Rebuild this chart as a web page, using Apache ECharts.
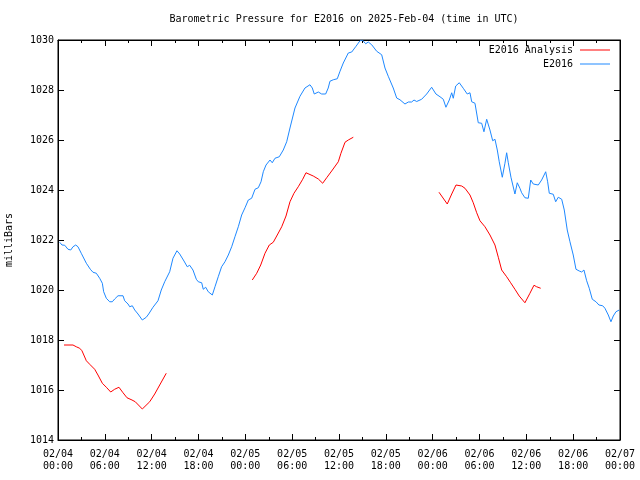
<!DOCTYPE html>
<html>
<head>
<meta charset="utf-8">
<script src="https://cdn.jsdelivr.net/npm/echarts@6/dist/echarts.min.js"></script>
<style>html,body{margin:0;padding:0;background:#fff;}#c{width:640px;height:480px;}</style>
</head>
<body>
<div id="c"></div>
<script>
// Time in hours since 2025-02-04 00:00 UTC
const xTickLabels = ["02/04\n00:00","02/04\n06:00","02/04\n12:00","02/04\n18:00","02/05\n00:00","02/05\n06:00","02/05\n12:00","02/05\n18:00","02/06\n00:00","02/06\n06:00","02/06\n12:00","02/06\n18:00","02/07\n00:00"];
const yTicks = [1014,1016,1018,1020,1022,1024,1026,1028,1030];

const blueHours = [0.22,0.51,0.86,1.28,1.63,1.92,2.27,2.56,2.98,3.63,4.14,4.48,4.91,5.34,5.68,5.85,6.19,6.62,6.96,7.26,7.69,8.33,8.54,8.97,9.19,9.52,9.83,10.25,10.80,11.31,11.62,12.17,12.81,13.23,13.67,14.31,14.73,15.24,15.59,16.14,16.56,16.87,17.29,17.72,17.97,18.41,18.61,18.92,19.25,19.77,20.11,20.53,20.96,21.39,21.82,22.25,22.67,23.10,23.53,23.96,24.38,24.81,25.24,25.66,26.01,26.30,26.65,27.16,27.45,27.80,28.35,28.86,29.30,29.72,30.36,31.00,31.64,32.28,32.58,32.83,33.35,33.78,34.29,34.62,34.84,35.27,35.78,36.13,36.55,37.19,37.63,38.18,38.69,38.99,39.42,39.75,40.19,40.83,41.47,41.89,42.31,42.95,43.39,43.81,44.45,44.88,45.31,45.61,45.95,46.59,47.23,47.87,48.42,48.94,49.36,49.70,50.13,50.44,50.64,50.95,51.41,51.92,52.43,52.78,53.00,53.42,53.84,54.28,54.57,54.92,55.34,55.69,55.98,56.28,56.53,56.92,57.26,57.48,57.69,58.03,58.54,58.84,59.18,59.40,59.82,60.25,60.56,60.89,61.53,61.96,62.48,62.73,62.94,63.45,63.76,64.09,64.53,64.86,65.24,65.59,66.01,66.36,66.78,67.09,67.38,67.73,68.06,68.45,68.92,69.30,69.78,70.07,70.50,70.84,71.14,71.48,71.90];
const blueValues = [1021.91,1021.80,1021.79,1021.63,1021.60,1021.73,1021.80,1021.73,1021.47,1021.07,1020.83,1020.71,1020.67,1020.47,1020.27,1019.93,1019.67,1019.53,1019.53,1019.64,1019.77,1019.77,1019.57,1019.44,1019.33,1019.37,1019.20,1019.04,1018.80,1018.91,1019.04,1019.31,1019.57,1020.00,1020.33,1020.73,1021.27,1021.57,1021.44,1021.16,1020.93,1020.99,1020.80,1020.43,1020.33,1020.29,1020.03,1020.11,1019.93,1019.80,1020.13,1020.53,1020.93,1021.13,1021.40,1021.73,1022.13,1022.53,1023.00,1023.29,1023.60,1023.67,1024.03,1024.09,1024.33,1024.73,1025.00,1025.20,1025.09,1025.27,1025.33,1025.60,1025.93,1026.48,1027.28,1027.75,1028.08,1028.21,1028.08,1027.84,1027.92,1027.84,1027.84,1028.08,1028.35,1028.41,1028.45,1028.75,1029.08,1029.48,1029.52,1029.75,1029.97,1030.00,1029.85,1029.92,1029.81,1029.55,1029.41,1028.88,1028.55,1028.08,1027.68,1027.61,1027.44,1027.52,1027.52,1027.60,1027.54,1027.63,1027.84,1028.11,1027.84,1027.73,1027.63,1027.31,1027.60,1027.89,1027.67,1028.16,1028.29,1028.07,1027.84,1027.89,1027.53,1027.47,1026.69,1026.67,1026.33,1026.83,1026.40,1025.97,1026.03,1025.60,1025.13,1024.51,1025.07,1025.49,1025.09,1024.51,1023.84,1024.29,1024.07,1023.89,1023.69,1023.67,1024.40,1024.24,1024.20,1024.40,1024.73,1024.33,1023.87,1023.83,1023.53,1023.71,1023.63,1023.20,1022.40,1021.93,1021.40,1020.83,1020.76,1020.72,1020.80,1020.37,1020.07,1019.63,1019.53,1019.40,1019.37,1019.27,1019.00,1018.73,1018.96,1019.13,1019.20];

// Analysis (null marks a gap between runs)
const redHours = [0.77,1.92,2.34,2.78,3.07,3.63,4.06,4.70,5.12,5.68,6.19,6.75,7.26,7.81,8.33,8.84,9.48,9.90,10.80,11.75,12.39,13.03,13.87,
  19.0,
  24.89,25.46,25.97,26.52,27.07,27.58,28.09,28.66,29.21,29.72,30.23,30.78,31.35,31.77,32.70,33.35,33.91,34.42,35.06,35.91,36.25,36.77,37.19,37.83,
  43.0,
  48.81,49.87,50.44,50.99,51.72,52.14,52.78,53.20,53.64,54.06,54.70,55.34,55.98,56.41,56.84,57.48,57.99,58.54,59.09,59.82,60.46,60.98,61.32,61.84];
const redValues = [1017.80,1017.80,1017.73,1017.67,1017.57,1017.17,1017.03,1016.83,1016.60,1016.27,1016.11,1015.92,1016.03,1016.11,1015.89,1015.69,1015.60,1015.53,1015.24,1015.53,1015.84,1016.20,1016.67,
  null,
  1020.40,1020.67,1021.00,1021.47,1021.80,1021.91,1022.20,1022.53,1022.96,1023.53,1023.87,1024.13,1024.43,1024.69,1024.56,1024.44,1024.27,1024.49,1024.76,1025.13,1025.47,1025.91,1026.00,1026.11,
  null,
  1023.91,1023.44,1023.84,1024.20,1024.16,1024.07,1023.80,1023.49,1023.09,1022.77,1022.53,1022.20,1021.80,1021.31,1020.80,1020.53,1020.29,1020.03,1019.76,1019.49,1019.87,1020.19,1020.13,1020.07];

const FONT = 'DejaVu Sans Mono';
const chart = echarts.init(document.getElementById('c'), null, {renderer: 'canvas'});
const pair = (xs, ys) => xs.map((x, i) => [x, ys[i]]);

const xBase = {
  type: 'value', min: 0, max: 72, interval: 6,
  axisLine: {show: true, onZero: false, lineStyle: {color: '#000', width: 1}},
  axisTick: {show: true, inside: true, length: 6, lineStyle: {color: '#000'}},
  minorTick: {show: true, splitNumber: 2, length: 3, lineStyle: {color: '#000'}},
  splitLine: {show: false}
};
const yBase = {
  type: 'value', min: 1014, max: 1030, interval: 2,
  axisLine: {show: true, onZero: false, lineStyle: {color: '#000', width: 1}},
  axisTick: {show: true, inside: true, length: 6, lineStyle: {color: '#000'}},
  splitLine: {show: false}
};

chart.setOption({
  animation: false,
  backgroundColor: '#fff',
  title: {
    text: 'Barometric Pressure for E2016 on 2025-Feb-04 (time in UTC)',
    left: 339, top: 9, textAlign: 'center',
    textStyle: {fontFamily: FONT, fontSize: 10, fontWeight: 'normal', color: '#000'}
  },
  legend: {
    orient: 'vertical', right: 25, top: 40, align: 'right',
    itemWidth: 30, itemHeight: 10, itemGap: 4,
    textStyle: {fontFamily: FONT, fontSize: 10, color: '#000', padding: [0, 2, 0, 0]},
    data: [{name: 'E2016 Analysis', icon: 'path://M0,5L30,5L30,6L0,6Z'}, {name: 'E2016', icon: 'path://M0,5L30,5L30,6L0,6Z'}]
  },
  grid: {left: 58, right: 20, top: 40, bottom: 40, show: true, borderColor: '#000', borderWidth: 1,
    containLabel: false, outerBoundsMode: 'none'},
  xAxis: [
    Object.assign({}, xBase, {
      position: 'bottom',
      axisLabel: {show: true, fontFamily: FONT, fontSize: 10, color: '#000', lineHeight: 12, margin: 8,
        formatter: v => xTickLabels[Math.round(v / 6)] || ''}
    }),
    Object.assign({}, xBase, {position: 'top', axisLabel: {show: false}})
  ],
  yAxis: [
    Object.assign({}, yBase, {
      position: 'left',
      name: 'milliBars', nameLocation: 'middle', nameGap: 44, nameRotate: 90,
      nameTextStyle: {fontFamily: FONT, fontSize: 10, color: '#000'},
      axisLabel: {show: true, fontFamily: FONT, fontSize: 10, color: '#000', margin: 4,
        formatter: v => yTicks.indexOf(v) >= 0 ? String(v) : ''}
    }),
    Object.assign({}, yBase, {position: 'right', axisLabel: {show: false}})
  ],
  series: [
    {
      name: 'E2016 Analysis', type: 'line', xAxisIndex: 0, yAxisIndex: 0,
      data: pair(redHours, redValues), connectNulls: false,
      showSymbol: false, symbol: 'none', color: '#ff0000',
      lineStyle: {color: '#ff0000', width: 1}, clip: true
    },
    {
      name: 'E2016', type: 'line', xAxisIndex: 0, yAxisIndex: 0,
      data: pair(blueHours, blueValues),
      showSymbol: false, symbol: 'none', color: '#1e88ff',
      lineStyle: {color: '#1e88ff', width: 1}, clip: true
    }
  ]
});
</script>
</body>
</html>
